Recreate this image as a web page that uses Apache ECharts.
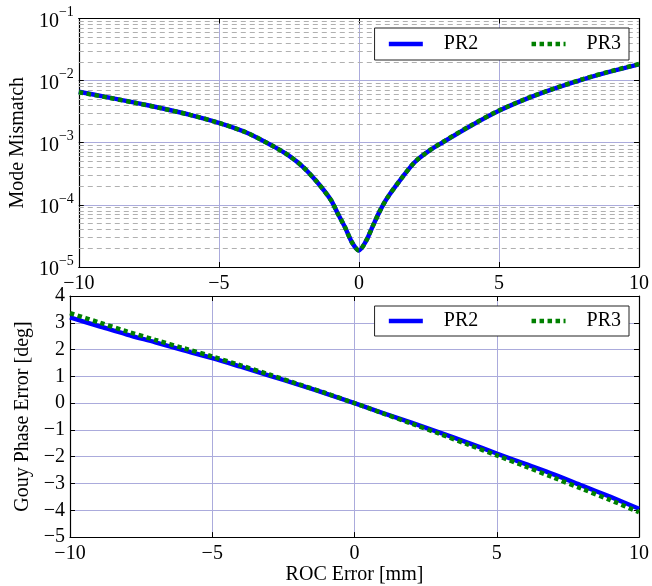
<!DOCTYPE html>
<html>
<head>
<meta charset="utf-8">
<script src="https://cdn.jsdelivr.net/npm/echarts@6/dist/echarts.min.js"></script>
<style>html,body{margin:0;padding:0;background:#fff;}#c{width:652px;height:586px;}</style>
</head>
<body>
<div id="c"></div>
<script>
// ---- data ----
const xVals = [-10,-9,-8,-7,-6,-5,-4,-3,-2.5,-2,-1.5,-1,-0.75,-0.5,-0.25,0,0.25,0.5,0.75,1,1.5,2,2.5,3,4,5,6,7,8,9,10];
const mismatchPR2 = [6.6e-3,5.43e-3,4.42e-3,3.55e-3,2.79e-3,2.09e-3,1.45e-3,8.5e-4,6.2e-4,4.1e-4,2.35e-4,1.2e-4,7.2e-5,4.4e-5,2.5e-5,1.85e-5,2.6e-5,4.6e-5,8.0e-5,1.27e-4,2.6e-4,4.9e-4,7.4e-4,1.02e-3,1.88e-3,3.27e-3,5.13e-3,7.5e-3,1.05e-2,1.41e-2,1.83e-2];
const mismatchPR3 = [6.5e-3,5.38e-3,4.4e-3,3.54e-3,2.79e-3,2.09e-3,1.45e-3,8.5e-4,6.2e-4,4.1e-4,2.35e-4,1.2e-4,7.2e-5,4.4e-5,2.5e-5,1.85e-5,2.6e-5,4.6e-5,8.0e-5,1.27e-4,2.6e-4,4.9e-4,7.4e-4,1.03e-3,1.9e-3,3.3e-3,5.17e-3,7.56e-3,1.06e-2,1.42e-2,1.85e-2];
const xGouy = [-10,-9,-8,-7,-6,-5,-4,-3,-2,-1,0,1,2,3,4,5,6,7,8,9,10];
const gouyPR2 = [3.20,2.88,2.56,2.27,1.97,1.68,1.36,1.03,0.70,0.36,0.00,-0.37,-0.73,-1.10,-1.48,-1.88,-2.27,-2.66,-3.08,-3.50,-3.94];
const gouyPR3 = [3.36,3.02,2.68,2.36,2.05,1.74,1.41,1.07,0.72,0.37,0.00,-0.38,-0.76,-1.15,-1.55,-1.95,-2.36,-2.78,-3.20,-3.62,-4.07];
const seriesNames = ['PR2','PR3'];
const xLabel = 'ROC Error [mm]';
const yLabelTop = 'Mode Mismatch';
const yLabelBottom = 'Gouy Phase Error [deg]';
const minorLogGrid = [];
for (let d = -5; d <= -2; d++) for (let m = 2; m <= 9; m++) minorLogGrid.push(+(m * Math.pow(10, d)).toPrecision(3));

// ---- chart ----
const FONT = "'Liberation Serif','DejaVu Serif',serif";
const MAJOR = '#ababdc';
const BLUE = '#0000ff', GREEN = '#008000';
const minus = s => String(s).replace('-', '\u2212');
const chart = echarts.init(document.getElementById('c'), null, {renderer: 'canvas'});

const xBase = (grid) => ({
  type: 'value', gridIndex: grid, min: -10, max: 10, interval: 5,
  axisLine: {show: true, onZero: false, lineStyle: {color: '#000', width: 1.2}},
  axisTick: {show: true, inside: true, length: 5, lineStyle: {color: '#000'}},
  axisLabel: {show: true, margin: 7, color: '#000', fontFamily: FONT, fontSize: 20, formatter: v => minus(v)},
  splitLine: {show: true, lineStyle: {color: MAJOR, width: 1}}
});
const xMirror = (grid) => ({
  type: 'value', gridIndex: grid, position: 'top', min: -10, max: 10, interval: 5,
  axisLine: {show: true, onZero: false, lineStyle: {color: '#000', width: 1.2}},
  axisTick: {show: true, inside: true, length: 5, lineStyle: {color: '#000'}},
  axisLabel: {show: false}, splitLine: {show: false}
});
const legendBase = (top, pad) => ({
  data: seriesNames, right: 23, top: top, orient: 'horizontal', itemWidth: 34, itemHeight: 10, itemGap: 51,
  padding: pad, borderColor: '#222', borderWidth: 1, backgroundColor: '#fff',
  itemStyle: {opacity: 0, color: 'transparent', borderColor: 'transparent', borderWidth: 0},
  lineStyle: {width: 4.5},
  textStyle: {fontFamily: FONT, fontSize: 20, color: '#000', padding: [0, 0, 0, 16]}
});

const option = {
  animation: false,
  backgroundColor: '#fff',
  textStyle: {fontFamily: FONT},
  grid: [
    {left: 70, right: 12, top: 18.5, height: 248.5, show: false},
    {left: 70, right: 12, top: 296, height: 248.5, show: false}
  ],
  legend: [legendBase(28, [6, 8, 6, 12]), legendBase(306, [5, 8, 5, 12])],
  xAxis: [
    xBase(0),
    Object.assign(xBase(1), {name: xLabel, nameLocation: 'middle', nameGap: 19,
      nameTextStyle: {fontFamily: FONT, fontSize: 20, color: '#000'}}),
    xMirror(0), xMirror(1)
  ],
  yAxis: [
    {type: 'log', logBase: 10, gridIndex: 0, min: 1e-5, max: 1e-1, interval: 1,
     name: yLabelTop, nameLocation: 'middle', nameGap: 42,
     nameTextStyle: {fontFamily: FONT, fontSize: 20, color: '#000'},
     axisLine: {show: true, onZero: false, lineStyle: {color: '#000', width: 1.2}},
     axisTick: {show: true, inside: true, length: 5, lineStyle: {color: '#000'}},
     axisLabel: {margin: 5, color: '#000',
       formatter: v => { const e = Math.round(Math.log10(v)); return '{b|10}{s|' + minus(e) + '}'; },
       rich: {b: {fontFamily: FONT, fontSize: 20, color: '#000', padding: [6, 0, 0, 0]},
              s: {fontFamily: FONT, fontSize: 14, color: '#000', verticalAlign: 'top', padding: [0, 0, 8, 0]}}},
     splitLine: {show: true, lineStyle: {color: MAJOR, width: 1}}},
    {type: 'value', gridIndex: 1, min: -5, max: 4, interval: 1,
     name: yLabelBottom, nameLocation: 'middle', nameGap: 34,
     nameTextStyle: {fontFamily: FONT, fontSize: 20, color: '#000'},
     axisLine: {show: true, onZero: false, lineStyle: {color: '#000', width: 1.2}},
     axisTick: {show: true, inside: true, length: 5, lineStyle: {color: '#000'}},
     axisLabel: {margin: 5, color: '#000', fontFamily: FONT, fontSize: 20, formatter: v => minus(v)},
     splitLine: {show: true, lineStyle: {color: MAJOR, width: 1}}},
    {type: 'log', logBase: 10, gridIndex: 0, position: 'right', min: 1e-5, max: 1e-1, interval: 1,
     axisLine: {show: true, onZero: false, lineStyle: {color: '#000', width: 1.2}},
     axisTick: {show: true, inside: true, length: 5, lineStyle: {color: '#000'}},
     axisLabel: {show: false}, splitLine: {show: false}},
    {type: 'value', gridIndex: 1, position: 'right', min: -5, max: 4, interval: 1,
     axisLine: {show: true, onZero: false, lineStyle: {color: '#000', width: 1.2}},
     axisTick: {show: true, inside: true, length: 5, lineStyle: {color: '#000'}},
     axisLabel: {show: false}, splitLine: {show: false}}
  ],
  series: [
    {name: 'minorGrid', type: 'lines', coordinateSystem: 'cartesian2d', xAxisIndex: 0, yAxisIndex: 0,
     z: 1, silent: true, polyline: false,
     lineStyle: {color: '#b0b0b0', width: 1, type: [5, 4], opacity: 1, curveness: 0},
     data: minorLogGrid.map(v => ({coords: [[-10, v], [10, v]]}))},
    {name: seriesNames[0], type: 'line', xAxisIndex: 0, yAxisIndex: 0, showSymbol: false, symbol: 'none', smooth: 0.3, z: 3,
     data: xVals.map((x, i) => [x, mismatchPR2[i]]), color: BLUE, lineStyle: {color: BLUE, width: 4.5}},
    {name: seriesNames[1], type: 'line', xAxisIndex: 0, yAxisIndex: 0, showSymbol: false, symbol: 'none', smooth: 0.3, z: 4,
     data: xVals.map((x, i) => [x, mismatchPR3[i]]), color: GREEN, lineStyle: {color: GREEN, width: 4.5, type: [4.5, 3.5]}},
    {name: seriesNames[0], type: 'line', xAxisIndex: 1, yAxisIndex: 1, showSymbol: false, symbol: 'none', smooth: 0.3, z: 3,
     data: xGouy.map((x, i) => [x, gouyPR2[i]]), color: BLUE, lineStyle: {color: BLUE, width: 4.5}},
    {name: seriesNames[1], type: 'line', xAxisIndex: 1, yAxisIndex: 1, showSymbol: false, symbol: 'none', smooth: 0.3, z: 4,
     data: xGouy.map((x, i) => [x, gouyPR3[i]]), color: GREEN, lineStyle: {color: GREEN, width: 4.5, type: [4.5, 3.5]}}
  ]
};
chart.setOption(option);
</script>
</body>
</html>
